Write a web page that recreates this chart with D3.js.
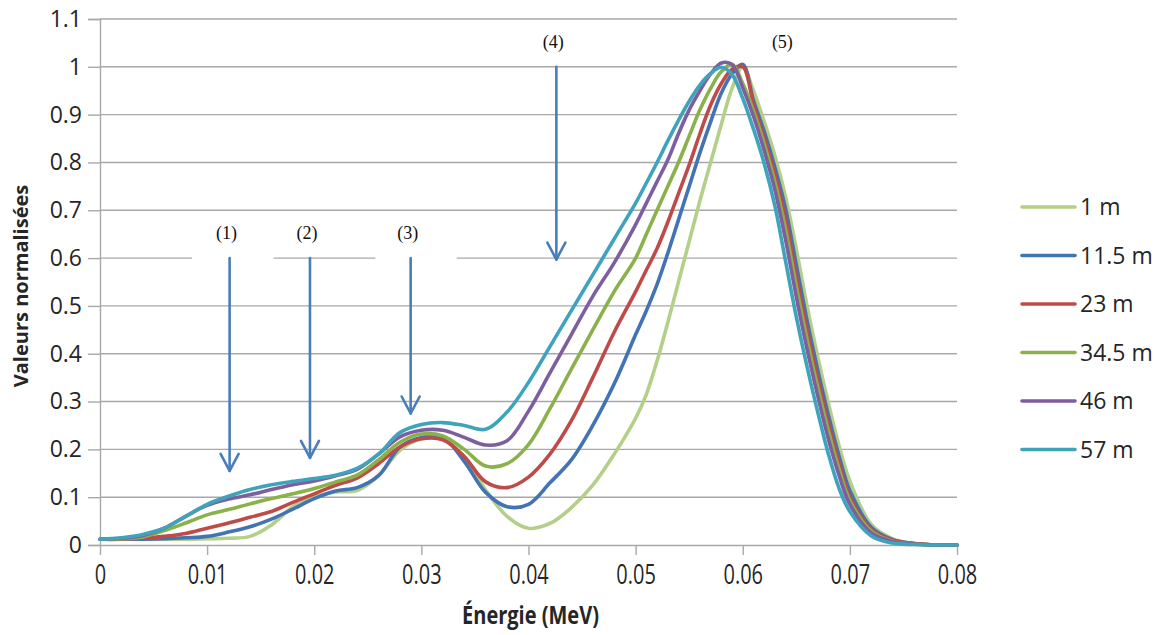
<!DOCTYPE html>
<html>
<head>
<meta charset="utf-8">
<script src="https://cdn.jsdelivr.net/npm/d3@7"></script>
<style>
  html, body { margin: 0; padding: 0; background: #fff; }
  svg { display: block; }
</style>
</head>
<body>
<svg id="chart" width="1161" height="635"></svg>
<script>
// ---------- data ----------
const energies = [0, 0.002, 0.004, 0.006, 0.008, 0.010, 0.012, 0.014, 0.016, 0.018,
  0.020, 0.022, 0.024, 0.026, 0.028, 0.030, 0.032, 0.034, 0.036, 0.038,
  0.040, 0.042, 0.044, 0.046, 0.048, 0.050, 0.051, 0.052, 0.053, 0.054,
  0.055, 0.056, 0.057, 0.058, 0.059, 0.060, 0.061, 0.062, 0.063, 0.064,
  0.065, 0.066, 0.067, 0.068, 0.069, 0.070, 0.072, 0.074, 0.076, 0.078, 0.080];

const seriesNames = ["1 m", "11.5 m", "23 m", "34.5 m", "46 m", "57 m"];
const seriesColors = ["#b3cf88", "#4273b5", "#be4b48", "#8ab14a", "#7d5fa0", "#3ea3bb"];

const s1m = [0.012, 0.012, 0.012, 0.012, 0.012, 0.013, 0.014, 0.018, 0.042, 0.080,
  0.101, 0.111, 0.114, 0.145, 0.198, 0.222, 0.222, 0.185, 0.115, 0.060,
  0.035, 0.045, 0.078, 0.125, 0.190, 0.265, 0.315, 0.385, 0.465, 0.550,
  0.635, 0.720, 0.800, 0.880, 0.955, 1.000, 0.950, 0.885, 0.814, 0.728,
  0.619, 0.500, 0.394, 0.296, 0.207, 0.134, 0.043, 0.013, 0.003, 0.000, 0.000];

const s11m = [0.012, 0.012, 0.012, 0.013, 0.015, 0.018, 0.027, 0.038, 0.054, 0.075,
  0.097, 0.113, 0.120, 0.145, 0.205, 0.225, 0.225, 0.175, 0.110, 0.080,
  0.085, 0.130, 0.178, 0.250, 0.337, 0.440, 0.490, 0.545, 0.610, 0.680,
  0.750, 0.820, 0.885, 0.945, 0.985, 1.005, 0.930, 0.865, 0.790, 0.703,
  0.586, 0.470, 0.366, 0.271, 0.185, 0.114, 0.037, 0.011, 0.003, 0.000, 0.000];

const s23m = [0.012, 0.012, 0.014, 0.018, 0.024, 0.035, 0.046, 0.058, 0.070, 0.089,
  0.107, 0.125, 0.140, 0.170, 0.205, 0.222, 0.220, 0.185, 0.132, 0.120,
  0.142, 0.190, 0.260, 0.350, 0.445, 0.530, 0.575, 0.620, 0.675, 0.735,
  0.795, 0.860, 0.920, 0.965, 0.995, 1.000, 0.922, 0.852, 0.776, 0.682,
  0.563, 0.450, 0.348, 0.254, 0.172, 0.101, 0.033, 0.010, 0.003, 0.000, 0.000];

const s34m = [0.012, 0.013, 0.017, 0.030, 0.046, 0.063, 0.074, 0.086, 0.097, 0.107,
  0.118, 0.132, 0.146, 0.178, 0.215, 0.232, 0.228, 0.200, 0.165, 0.170,
  0.210, 0.285, 0.368, 0.450, 0.530, 0.600, 0.650, 0.700, 0.750, 0.800,
  0.855, 0.910, 0.955, 0.990, 1.005, 0.965, 0.908, 0.839, 0.759, 0.660,
  0.541, 0.430, 0.330, 0.238, 0.158, 0.093, 0.029, 0.008, 0.002, 0.000, 0.000];

const s46m = [0.012, 0.014, 0.020, 0.035, 0.060, 0.083, 0.096, 0.105, 0.116, 0.126,
  0.134, 0.145, 0.158, 0.190, 0.226, 0.240, 0.240, 0.225, 0.209, 0.218,
  0.280, 0.360, 0.440, 0.520, 0.590, 0.670, 0.715, 0.760, 0.805, 0.860,
  0.910, 0.950, 0.985, 1.008, 1.005, 0.956, 0.897, 0.825, 0.743, 0.638,
  0.519, 0.410, 0.312, 0.221, 0.145, 0.085, 0.025, 0.007, 0.002, 0.000, 0.000];

const s57m = [0.012, 0.015, 0.022, 0.035, 0.060, 0.085, 0.102, 0.116, 0.126, 0.133,
  0.139, 0.146, 0.160, 0.190, 0.235, 0.252, 0.256, 0.250, 0.242, 0.278,
  0.340, 0.415, 0.490, 0.565, 0.640, 0.715, 0.757, 0.800, 0.845, 0.888,
  0.928, 0.962, 0.986, 0.999, 0.984, 0.934, 0.870, 0.798, 0.709, 0.593,
  0.477, 0.373, 0.278, 0.190, 0.118, 0.070, 0.019, 0.004, 0.001, 0.000, 0.000];

const seriesValues = [s1m, s11m, s23m, s34m, s46m, s57m];

const xTicks = [0, 0.01, 0.02, 0.03, 0.04, 0.05, 0.06, 0.07, 0.08];
const xTickLabels = ["0", "0.01", "0.02", "0.03", "0.04", "0.05", "0.06", "0.07", "0.08"];
const yTicks = [0, 0.1, 0.2, 0.3, 0.4, 0.5, 0.6, 0.7, 0.8, 0.9, 1.0, 1.1];
const yTickLabels = ["0", "0.1", "0.2", "0.3", "0.4", "0.5", "0.6", "0.7", "0.8", "0.9", "1", "1.1"];

// annotations: label, energy of arrow, value of arrow top, value of arrow tip
const annLabels = ["(1)", "(2)", "(3)", "(4)", "(5)"];
const annEnergy = [0.0121, 0.0196, 0.0290, 0.0426, 0.0637];
const annLabelValue = [0.64, 0.64, 0.64, 1.04, 1.04];
const arrowTop = [0.6, 0.6, 0.6, 1.0, null];
const arrowTip = [0.155, 0.182, 0.275, 0.597, null];

// ---------- chart ----------
const svg = d3.select("#chart");
const x = d3.scaleLinear().domain([0, 0.08]).range([100, 957]);
const y = d3.scaleLinear().domain([0, 1.1]).range([545, 19]);
const gridColor = "#a8a8a8";
const fontMain = "'Open Sans', 'DejaVu Sans', sans-serif";

svg.append("rect").attr("width", 1161).attr("height", 635).attr("fill", "#fff");

// horizontal gridlines
svg.append("g").selectAll("line").data(yTicks.slice(1)).join("line")
  .attr("x1", x(0)).attr("x2", x(0.08))
  .attr("y1", d => y(d)).attr("y2", d => y(d))
  .attr("stroke", gridColor).attr("stroke-width", 1.4);

// y axis
const yAxis = d3.axisLeft(y).tickValues(yTicks)
  .tickFormat((d, i) => yTickLabels[i]).tickSize(12).tickPadding(6);
const gy = svg.append("g").attr("transform", `translate(${x(0)},0)`).call(yAxis);
gy.select(".domain").attr("stroke", gridColor).attr("stroke-width", 1.4);
gy.selectAll(".tick line").attr("stroke", gridColor).attr("stroke-width", 1.4);
gy.selectAll(".tick text").attr("font-family", fontMain).attr("font-size", 23)
  .attr("fill", "#262626");

// x axis
const xAxis = d3.axisBottom(x).tickValues(xTicks)
  .tickFormat((d, i) => xTickLabels[i]).tickSize(10).tickSizeOuter(0).tickPadding(10);
const gx = svg.append("g").attr("transform", `translate(0,${y(0)})`).call(xAxis);
gx.select(".domain").attr("stroke", gridColor).attr("stroke-width", 1.4);
gx.selectAll(".tick line").attr("stroke", gridColor).attr("stroke-width", 1.4);
gx.selectAll(".tick text").attr("font-family", fontMain).attr("font-size", 27)
  .attr("fill", "#262626").attr("transform", "scale(0.74,1)");

// white boxes behind labels (1) and (3)
const boxes = [[0.0086, 0.0162], [0.0257, 0.0333]];
svg.append("g").selectAll("rect").data(boxes).join("rect")
  .attr("x", d => x(d[0])).attr("width", d => x(d[1]) - x(d[0]))
  .attr("y", y(0.67)).attr("height", y(0.595) - y(0.67))
  .attr("fill", "#fff");

// series lines
const line = d3.line()
  .x((d, i) => x(energies[i]))
  .y(d => y(d))
  .curve(d3.curveCatmullRom.alpha(0.5));

svg.append("g").selectAll("path").data(seriesValues).join("path")
  .attr("d", d => line(d))
  .attr("fill", "none")
  .attr("stroke", (d, i) => seriesColors[i])
  .attr("stroke-width", 3.6)
  .attr("stroke-linejoin", "round")
  .attr("stroke-linecap", "round");

// arrows
const arrowColor = "#4a7ebb";
const ag = svg.append("g").attr("stroke", arrowColor).attr("stroke-width", 2.6)
  .attr("fill", "none").attr("stroke-linecap", "round").attr("stroke-linejoin", "round");
annEnergy.forEach((e, i) => {
  if (arrowTop[i] === null) return;
  const ax = x(e), y0 = y(arrowTop[i]), y1 = y(arrowTip[i]);
  ag.append("line").attr("x1", ax).attr("x2", ax).attr("y1", y0).attr("y2", y1);
  ag.append("path").attr("d", `M${ax - 9},${y1 - 17} L${ax},${y1} L${ax + 9},${y1 - 17}`);
});

// annotation labels
svg.append("g").selectAll("text").data(annLabels).join("text")
  .attr("x", (d, i) => x(annEnergy[i]) + (i < 4 ? -3 : 0))
  .attr("y", (d, i) => y(annLabelValue[i]))
  .attr("text-anchor", "middle")
  .attr("font-family", "'Liberation Serif', 'Times New Roman', serif")
  .attr("font-size", 18).attr("fill", "#111")
  .text(d => d);

// axis titles
svg.append("text")
  .attr("transform", `translate(${(x(0) + x(0.08)) / 2 + 2},624) scale(0.8,1)`)
  .attr("text-anchor", "middle")
  .attr("font-family", fontMain).attr("font-weight", "bold").attr("font-size", 25)
  .attr("fill", "#262626").text("Énergie (MeV)");

svg.append("text")
  .attr("transform", `translate(28,${(y(0) + y(1.1)) / 2 + 4}) rotate(-90)`)
  .attr("text-anchor", "middle")
  .attr("font-family", fontMain).attr("font-weight", "bold").attr("font-size", 20)
  .attr("fill", "#262626").text("Valeurs normalisées");

// legend
const lg = svg.append("g").selectAll("g").data(seriesNames).join("g")
  .attr("transform", (d, i) => `translate(1022,${207 + i * 48.5})`);
lg.append("line").attr("x1", 0).attr("x2", 53).attr("y1", 0).attr("y2", 0)
  .attr("stroke", (d, i) => seriesColors[i]).attr("stroke-width", 3.6)
  .attr("stroke-linecap", "round");
lg.append("text").attr("x", 58).attr("y", 0).attr("dy", "0.36em")
  .attr("font-family", fontMain).attr("font-size", 23).attr("fill", "#262626")
  .text(d => d);
</script>
</body>
</html>
